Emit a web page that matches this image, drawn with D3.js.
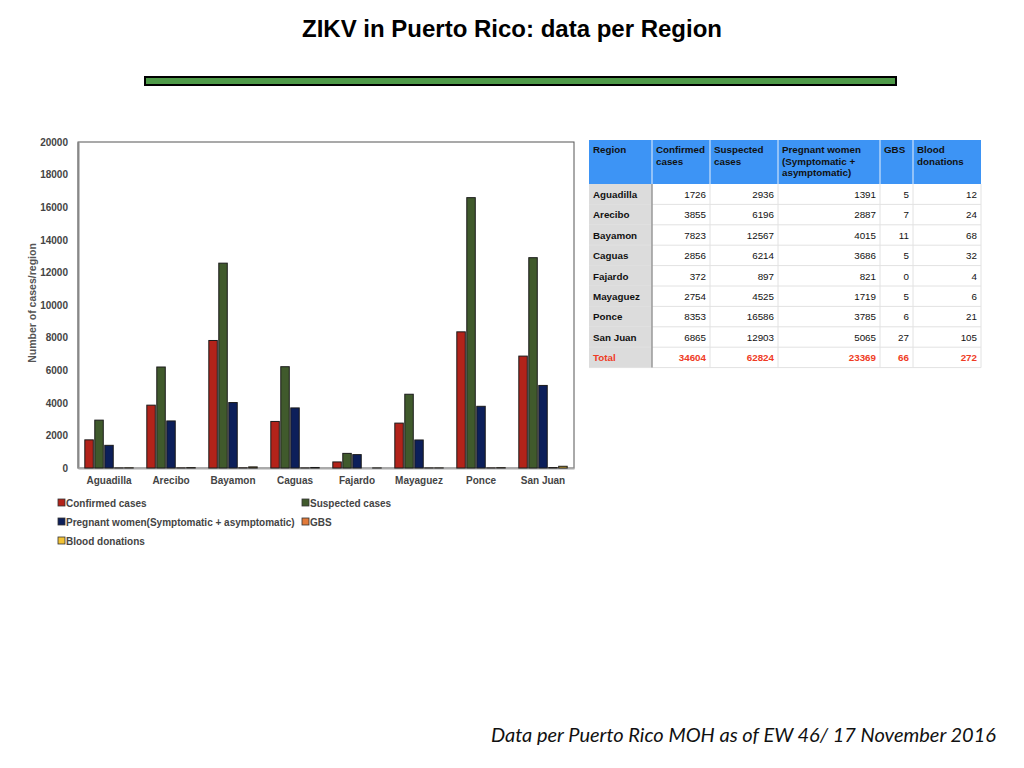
<!DOCTYPE html>
<html>
<head>
<meta charset="utf-8">
<script src="https://cdn.jsdelivr.net/npm/d3@7"></script>
<style>
  body { margin: 0; background: #fff; }
  svg { display: block; }
</style>
</head>
<body>
<div id="chart"></div>
<script>
// Data
var regions = ['Aguadilla', 'Arecibo', 'Bayamon', 'Caguas', 'Fajardo', 'Mayaguez', 'Ponce', 'San Juan'];
var confirmed = [1726, 3855, 7823, 2856, 372, 2754, 8353, 6865];
var suspected = [2936, 6196, 12567, 6214, 897, 4525, 16586, 12903];
var pregnant = [1391, 2887, 4015, 3686, 821, 1719, 3785, 5065];
var gbs = [5, 7, 11, 5, 0, 5, 6, 27];
var blood = [12, 24, 68, 32, 4, 6, 21, 105];
var totals = [34604, 62824, 23369, 66, 272];

var seriesNames = ['Confirmed cases', 'Suspected cases', 'Pregnant women(Symptomatic + asymptomatic)', 'GBS', 'Blood donations'];
var seriesColors = ['#b3231a', '#405a2c', '#0c1f5a', '#e27a3a', '#f2c234'];
var yTicks = [0, 2000, 4000, 6000, 8000, 10000, 12000, 14000, 16000, 18000, 20000];

var tableHeaders = ['Region', 'Confirmed\ncases', 'Suspected\ncases', 'Pregnant women\n(Symptomatic +\nasymptomatic)', 'GBS', 'Blood\ndonations'];

var allSeries = [confirmed, suspected, pregnant, gbs, blood];

var svg = d3.select('#chart').append('svg')
    .attr('width', 1024)
    .attr('height', 768);

// Title + green rule
svg.append('text')
    .attr('x', 512)
    .attr('y', 37)
    .attr('text-anchor', 'middle')
    .style('font-family', 'Liberation Sans, Arial, sans-serif')
    .style('font-weight', 'bold')
    .style('font-size', '24px')
    .style('fill', '#000')
    .text('ZIKV in Puerto Rico: data per Region');

svg.append('rect')
    .attr('x', 145)
    .attr('y', 77)
    .attr('width', 751)
    .attr('height', 8)
    .style('fill', '#4e9a48')
    .style('stroke', '#000')
    .style('stroke-width', 2);

// Chart
var margin = { top: 142, left: 78 };
var width = 496, height = 326;

var g = svg.append('g')
    .attr('transform', 'translate(' + margin.left + ',' + margin.top + ')');

var x0 = d3.scaleBand()
    .domain(regions)
    .range([0, width])
    .paddingInner(0.22)
    .paddingOuter(0.11);

var x1 = d3.scaleBand()
    .domain(d3.range(seriesNames.length))
    .range([0, x0.bandwidth()])
    .paddingInner(0.15);

var y = d3.scaleLinear()
    .domain([0, 20000])
    .range([height, 0]);

// frame
g.append('rect')
    .attr('width', width)
    .attr('height', height)
    .style('fill', 'none')
    .style('stroke', '#555')
    .style('stroke-width', 1);

var yAxis = g.append('g')
    .call(d3.axisLeft(y).tickValues(yTicks).tickSize(0).tickPadding(10).tickFormat(d3.format('d')));
yAxis.select('.domain').style('stroke', '#888').style('stroke-width', 2);
yAxis.selectAll('text')
    .style('font-family', 'Liberation Sans, Arial, sans-serif')
    .style('font-weight', 'bold')
    .style('font-size', '10px')
    .style('fill', '#444');

var xAxis = g.append('g')
    .attr('transform', 'translate(0,' + height + ')')
    .call(d3.axisBottom(x0).tickSize(0).tickPadding(9));
xAxis.select('.domain').style('stroke', '#aaa').style('stroke-width', 2);
xAxis.selectAll('text')
    .style('font-family', 'Liberation Sans, Arial, sans-serif')
    .style('font-weight', 'bold')
    .style('font-size', '10px')
    .style('fill', '#444');

g.append('text')
    .attr('transform', 'rotate(-90)')
    .attr('x', -height / 2 + 2)
    .attr('y', -42)
    .attr('text-anchor', 'middle')
    .style('font-family', 'Liberation Sans, Arial, sans-serif')
    .style('font-weight', 'bold')
    .style('font-size', '10.5px')
    .style('fill', '#555')
    .text('Number of cases/region');

// Bars
var groups = g.selectAll('.region')
    .data(regions)
    .enter()
    .append('g')
    .attr('class', 'region')
    .attr('transform', function (d) { return 'translate(' + x0(d) + ',0)'; });

groups.selectAll('rect')
    .data(function (d, i) {
        return allSeries.map(function (s, k) { return { k: k, v: s[i] }; });
    })
    .enter()
    .append('rect')
    .filter(function (d) { return d.v > 0; })
    .attr('x', function (d) { return x1(d.k); })
    .attr('y', function (d) { return y(d.v); })
    .attr('width', x1.bandwidth())
    .attr('height', function (d) { return y(0) - y(d.v); })
    .style('fill', function (d) { return seriesColors[d.k]; })
    .style('stroke', '#1a1a1a')
    .style('stroke-width', 1);

// Legend
var legendPos = [[58, 503], [302, 503], [58, 522], [302, 522], [58, 541]];
var legend = svg.selectAll('.legend')
    .data(seriesNames)
    .enter()
    .append('g')
    .attr('class', 'legend')
    .attr('transform', function (d, i) { return 'translate(' + legendPos[i][0] + ',' + legendPos[i][1] + ')'; });

legend.append('rect')
    .attr('x', 0)
    .attr('y', -4)
    .attr('width', 7)
    .attr('height', 7)
    .style('fill', function (d, i) { return seriesColors[i]; })
    .style('stroke', '#333')
    .style('stroke-width', 0.8);

legend.append('text')
    .attr('x', 8)
    .attr('y', 4)
    .style('font-family', 'Liberation Sans, Arial, sans-serif')
    .style('font-weight', 'bold')
    .style('font-size', '10px')
    .style('fill', '#444')
    .text(function (d) { return d; });

// Table
var colX = [589, 652, 710, 778, 880, 913, 981];
var headerTop = 140, headerH = 44, rowH = 20.4;
var tbl = svg.append('g').attr('class', 'table');
var tfont = 'Liberation Sans, Arial, sans-serif';

tbl.append('rect')
    .attr('x', colX[0]).attr('y', headerTop)
    .attr('width', colX[6] - colX[0]).attr('height', headerH)
    .style('fill', '#3d94f5');

tableHeaders.forEach(function (h, c) {
    if (c > 0) {
        tbl.append('line')
            .attr('x1', colX[c]).attr('x2', colX[c])
            .attr('y1', headerTop).attr('y2', headerTop + headerH)
            .style('stroke', '#e8f0fb').style('stroke-width', 1);
    }
    var t = tbl.append('text')
        .attr('x', colX[c] + 4)
        .attr('y', headerTop + 13)
        .style('font-family', tfont)
        .style('font-weight', 'bold')
        .style('font-size', '9.8px')
        .style('fill', '#111');
    h.split('\n').forEach(function (line, li) {
        t.append('tspan').attr('x', colX[c] + 4).attr('dy', li === 0 ? 0 : 11.5).text(line);
    });
});

var rowsData = regions.map(function (r, i) {
    return [r, confirmed[i], suspected[i], pregnant[i], gbs[i], blood[i]];
});
rowsData.push(['Total'].concat(totals));

var bodyTop = headerTop + headerH;
rowsData.forEach(function (row, ri) {
    var ry = bodyTop + ri * rowH;
    var isTotal = ri === rowsData.length - 1;
    tbl.append('rect')
        .attr('x', colX[0]).attr('y', ry)
        .attr('width', colX[1] - colX[0]).attr('height', rowH)
        .style('fill', '#dcdcdc');
    tbl.append('line')
        .attr('x1', colX[0]).attr('x2', colX[6])
        .attr('y1', ry + rowH).attr('y2', ry + rowH)
        .style('stroke', '#e2e2e2').style('stroke-width', 1);
    row.forEach(function (val, c) {
        tbl.append('text')
            .attr('x', c === 0 ? colX[0] + 4 : colX[c + 1] - 4)
            .attr('y', ry + 14)
            .attr('text-anchor', c === 0 ? 'start' : 'end')
            .style('font-family', tfont)
            .style('font-weight', (c === 0 || isTotal) ? 'bold' : 'normal')
            .style('font-size', '9.8px')
            .style('fill', isTotal ? '#ef3b24' : '#111')
            .text(val);
    });
});

for (var c = 2; c < 6; c++) {
    tbl.append('line')
        .attr('x1', colX[c]).attr('x2', colX[c])
        .attr('y1', bodyTop).attr('y2', bodyTop + rowsData.length * rowH)
        .style('stroke', '#e2e2e2').style('stroke-width', 1);
}
tbl.append('line')
    .attr('x1', colX[1]).attr('x2', colX[1])
    .attr('y1', bodyTop).attr('y2', bodyTop + rowsData.length * rowH)
    .style('stroke', '#999').style('stroke-width', 1.5);
tbl.append('line')
    .attr('x1', colX[6]).attr('x2', colX[6])
    .attr('y1', bodyTop).attr('y2', bodyTop + rowsData.length * rowH)
    .style('stroke', '#e2e2e2').style('stroke-width', 1);

// Footer
svg.append('text')
    .attr('x', 996)
    .attr('y', 742)
    .attr('text-anchor', 'end')
    .style('font-family', 'Lato, "Open Sans", sans-serif')
    .style('font-style', 'italic')
    .style('font-size', '20px')
    .style('fill', '#111')
    .text('Data per Puerto Rico MOH as of EW 46/ 17 November 2016');
</script>
</body>
</html>
